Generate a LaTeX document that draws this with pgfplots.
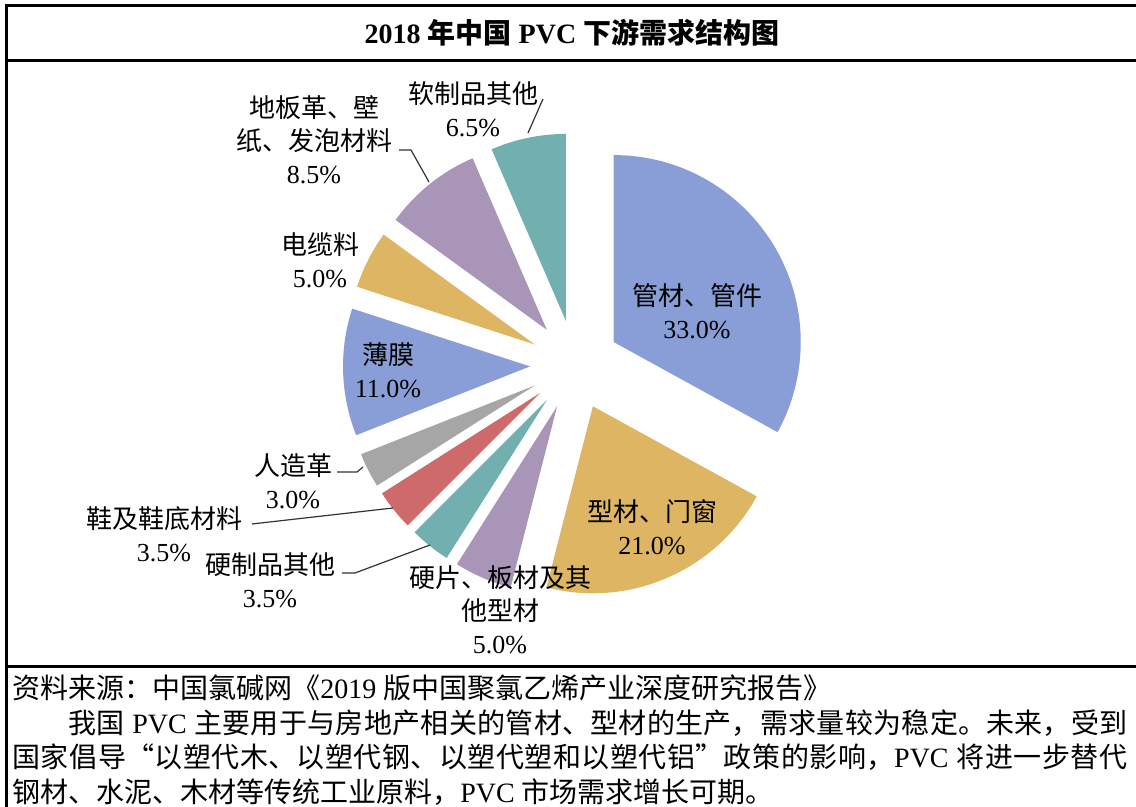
\documentclass[border=0pt]{standalone}
\usepackage{fontspec}
\setmainfont{Liberation Serif}
\newfontfamily\cjk{Noto Sans CJK SC}
\usepackage{pgfplots}
\usepackage{pgfplotstable}
\pgfplotsset{compat=1.18}

% switch to the CJK font for Chinese characters automatically
\XeTeXinterchartokenstate=1
\newXeTeXintercharclass\zhclass
\count255="3000
\loop \XeTeXcharclass\count255=\zhclass \ifnum\count255<"9FFF \advance\count255 by 1 \repeat
\count255="FF00
\loop \XeTeXcharclass\count255=\zhclass \ifnum\count255<"FFEF \advance\count255 by 1 \repeat
\XeTeXcharclass"201C=\zhclass
\XeTeXcharclass"201D=\zhclass
\XeTeXinterchartoks 0 \zhclass = {\begingroup\cjk}
\XeTeXinterchartoks 4095 \zhclass = {\begingroup\cjk}
\XeTeXinterchartoks \zhclass 0 = {\endgroup}
\XeTeXinterchartoks \zhclass 4095 = {\endgroup}

\definecolor{pvcblue}{RGB}{137,158,214}
\definecolor{pvcgold}{RGB}{222,181,98}
\definecolor{pvclilac}{RGB}{168,149,183}
\definecolor{pvcteal}{RGB}{114,175,175}
\definecolor{pvcred}{RGB}{207,106,106}
\definecolor{pvcgrey}{RGB}{166,166,166}

% share (%) and colour, clockwise from 12 o'clock
\pgfplotstableread{
v    col
33.0 pvcblue
21.0 pvcgold
5.0  pvclilac
3.5  pvcteal
3.5  pvcred
3.0  pvcgrey
11.0 pvcblue
5.0  pvcgold
8.5  pvclilac
6.5  pvcteal
}\piedata

\begin{document}
\begin{tikzpicture}[
  lbl/.style={font=\fontsize{13}{16.5}\selectfont, align=center, inner sep=0pt},
]
\useasboundingbox (0,0) rectangle (568pt,403.5pt);
\begin{axis}[
  hide axis, scale only axis, clip=false,
  width=568pt, height=403.5pt,
  xmin=0, xmax=1136, ymin=0, ymax=807,
  at={(0,0)}, anchor=south west,
]
% pie slices, each pushed out along its bisector
\def\cum{90}
\pgfplotsforeachungrouped \i in {0,...,9}{%
  \pgfplotstablegetelem{\i}{v}\of\piedata \let\val\pgfplotsretval
  \pgfplotstablegetelem{\i}{col}\of\piedata \let\col\pgfplotsretval
  \pgfmathsetmacro\sa{\cum}
  \pgfmathsetmacro\ea{\cum-3.6*\val}
  \pgfmathsetmacro\md{(\sa+\ea)/2}
  \pgfmathsetmacro\ox{575+45*cos(\md)}
  \pgfmathsetmacro\oy{442+45*sin(\md)}
  \edef\temp{\noexpand\fill[\col] (axis cs:\ox,\oy) -- ++(\sa:93.5pt)
    arc[start angle=\sa, end angle=\ea, radius=93.5pt] -- cycle;}
  \temp
  \global\let\cum\ea
}

% leader lines
\draw[line width=0.6pt, black!80] (axis cs:528,674) -- (axis cs:543,708);
\draw[line width=0.6pt, black!80] (axis cs:399,657) -- (axis cs:411,657) -- (axis cs:429,625);
\draw[line width=0.6pt, black!80] (axis cs:337,335) -- (axis cs:357,335) -- (axis cs:363,340);
\draw[line width=0.6pt, black!80] (axis cs:252,283) -- (axis cs:393,299);
\draw[line width=0.6pt, black!80] (axis cs:342,234) -- (axis cs:355,234) -- (axis cs:430,262);

% slice labels
\node[lbl] at (axis cs:697,496) {管材、管件\\33.0\%};
\node[lbl] at (axis cs:652,280) {型材、门窗\\21.0\%};
\node[lbl] at (axis cs:500,197) {硬片、板材及其\\他型材\\5.0\%};
\node[lbl] at (axis cs:270,227) {硬制品其他\\3.5\%};
\node[lbl] at (axis cs:164,273) {鞋及鞋底材料\\3.5\%};
\node[lbl] at (axis cs:293,326) {人造革\\3.0\%};
\node[lbl] at (axis cs:388,437) {薄膜\\11.0\%};
\node[lbl] at (axis cs:320,547) {电缆料\\5.0\%};
\node[lbl] at (axis cs:314,667) {地板革、壁\\纸、发泡材料\\8.5\%};
\node[lbl] at (axis cs:473,698) {软制品其他\\6.5\%};

% frame
\draw[line width=1.5pt] (axis cs:1140,801) -- (axis cs:6,801) -- (axis cs:6,-4);
\draw[line width=1.5pt] (axis cs:6,746) -- (axis cs:1140,746);
\draw[line width=1.5pt] (axis cs:6,140) -- (axis cs:1140,140);

% title
\node[font=\fontsize{14}{17}\selectfont\bfseries, inner sep=0pt] at (axis cs:572,774)
  {2018 年中国 PVC 下游需求结构图};

% source and note
\node[anchor=base west, inner sep=0pt] at (axis cs:12,108) {%
  \parbox[t]{557.5pt}{\fontsize{14}{17.2}\selectfont
  \XeTeXlinebreaklocale "zh"\XeTeXlinebreakskip=0pt plus 1pt
  \parindent=0pt
  资料来源：中国氯碱网《2019 版中国聚氯乙烯产业深度研究报告》\par
  \hspace*{2em}我国 PVC 主要用于与房地产相关的管材、型材的生产，需求量较为稳定。未来，受到\linebreak
  国家倡导“以塑代木、以塑代钢、以塑代塑和以塑代铝”政策的影响，PVC 将进一步替代\linebreak
  钢材、水泥、木材等传统工业原料，PVC 市场需求增长可期。}};
\end{axis}
\end{tikzpicture}
\end{document}
